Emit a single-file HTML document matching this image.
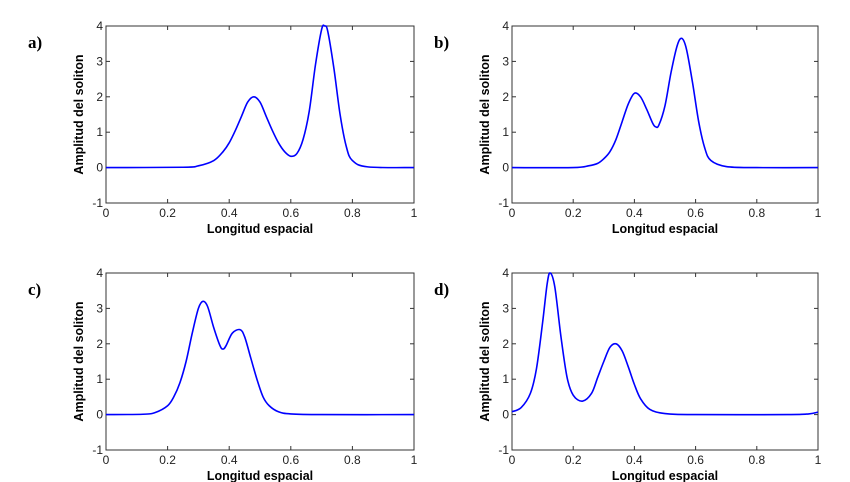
<!DOCTYPE html>
<html><head><meta charset="utf-8"><style>
body{margin:0;background:#fff;}
svg{display:block;font-family:"Liberation Sans",Arial,sans-serif;}
.tick{font-size:12px;fill:#222;}
.lab{font-size:12.5px;font-weight:bold;fill:#000;}
.pl{font-family:"Liberation Serif",serif;font-size:17px;font-weight:bold;}
</style></head><body>
<svg id="fig" width="850" height="482"></svg>
<script>
const xTicks=[0,0.2,0.4,0.6,0.8,1];
const xTickLabels=["0","0.2","0.4","0.6","0.8","1"];
const yTicks=[-1,0,1,2,3,4];
const yTickLabels=["-1","0","1","2","3","4"];
const panelLabels=["a)","b)","c)","d)"];
const aX=[0,0.25,0.3,0.35,0.38,0.4,0.42,0.44,0.46,0.48,0.5,0.52,0.54,0.56,0.58,0.6,0.62,0.64,0.66,0.68,0.7,0.71,0.72,0.74,0.76,0.78,0.8,0.85,1];
const aY=[0,0.01,0.05,0.2,0.45,0.7,1.05,1.45,1.85,2.0,1.85,1.45,1.05,0.7,0.45,0.32,0.4,0.8,1.6,2.9,3.9,4.0,3.85,2.8,1.5,0.6,0.2,0.02,0];
const bX=[0,0.2,0.25,0.28,0.3,0.32,0.34,0.36,0.38,0.4,0.42,0.44,0.46,0.47,0.48,0.5,0.52,0.54,0.555,0.57,0.59,0.61,0.63,0.65,0.7,0.8,1];
const bY=[0,0,0.05,0.12,0.25,0.45,0.8,1.3,1.8,2.1,2.0,1.65,1.25,1.15,1.2,1.75,2.7,3.45,3.65,3.35,2.4,1.3,0.55,0.2,0.03,0,0];
const cX=[0,0.12,0.16,0.2,0.22,0.24,0.26,0.28,0.3,0.315,0.33,0.35,0.37,0.38,0.39,0.41,0.435,0.45,0.47,0.49,0.51,0.53,0.56,0.6,0.7,1];
const cY=[0,0.01,0.06,0.25,0.5,0.9,1.5,2.3,3.0,3.2,3.05,2.45,1.95,1.85,1.95,2.3,2.4,2.2,1.6,1.0,0.5,0.25,0.08,0.02,0,0];
const dX=[0,0.03,0.06,0.08,0.1,0.115,0.125,0.14,0.16,0.18,0.2,0.23,0.26,0.28,0.3,0.32,0.34,0.36,0.38,0.4,0.42,0.45,0.5,0.6,0.9,0.97,1];
const dY=[0.08,0.2,0.6,1.3,2.6,3.7,4.0,3.6,2.2,1.05,0.55,0.38,0.6,1.05,1.5,1.9,2.0,1.8,1.35,0.85,0.45,0.15,0.03,0,0,0.02,0.07];
const seriesX=[aX,bX,cX,dX], seriesY=[aY,bY,cY,dY];
const boxes=[[106,26,414,203],[512,26,818,203],[106,273,414,450],[512,273,818,450]];
const NS="http://www.w3.org/2000/svg";
const svg=document.getElementById('fig');
function mk(t,a,p){const e=document.createElementNS(NS,t);for(const k in a)e.setAttribute(k,a[k]);(p||svg).appendChild(e);return e;}
boxes.forEach((b,i)=>{
  const [L,T,R,B]=b;
  const g=mk('g',{});
  
  
  const sx=v=>L+(R-L)*v, sy=v=>B-(B-T)*(v+1)/5;
  const fr=mk('rect',{x:L,y:T,width:R-L,height:B-T,fill:'none',stroke:'#333','stroke-width':1},g);
  
  
  xTicks.forEach((v,k)=>{
    const x=sx(v);
    mk('line',{x1:x,y1:B,x2:x,y2:B-4,stroke:'#333'},g);
    mk('line',{x1:x,y1:T,x2:x,y2:T+4,stroke:'#333'},g);
    const t=mk('text',{x:x,y:B+14,'text-anchor':'middle',class:'tick'},g);t.textContent=xTickLabels[k];
    
    
  });
  yTicks.forEach((v,k)=>{
    const y=sy(v);
    mk('line',{x1:L,y1:y,x2:L+4,y2:y,stroke:'#333'},g);
    mk('line',{x1:R,y1:y,x2:R-4,y2:y,stroke:'#333'},g);
    const t=mk('text',{x:L-3,y:y+4,'text-anchor':'end',class:'tick'},g);t.textContent=yTickLabels[k];
    
    
  });
  const xl=mk('text',{x:(L+R)/2,y:B+30,'text-anchor':'middle',class:'lab'},g);xl.textContent='Longitud espacial';
  
  
  const yl=mk('text',{x:0,y:0,'text-anchor':'middle',class:'lab',transform:`translate(${L-23},${(T+B)/2}) rotate(-90)`},g);yl.textContent='Amplitud del soliton';
  
  
  const pl=mk('text',{x:L-78,y:T+22,class:'pl'},g);pl.textContent=panelLabels[i];
  
  
  const X=seriesX[i],Y=seriesY[i];
  const P=X.map((x,k)=>[sx(x),sy(Y[k])]);
  let d=`M${P[0][0]},${P[0][1]}`;
  for(let k=0;k<P.length-1;k++){
    const p0=P[Math.max(k-1,0)],p1=P[k],p2=P[k+1],p3=P[Math.min(k+2,P.length-1)];
    const c1=[p1[0]+(p2[0]-p0[0])/6,p1[1]+(p2[1]-p0[1])/6];
    const c2=[p2[0]-(p3[0]-p1[0])/6,p2[1]-(p3[1]-p1[1])/6];
    d+=` C${c1[0]},${c1[1]} ${c2[0]},${c2[1]} ${p2[0]},${p2[1]}`;
  }
  const ln=mk('path',{d:d,fill:'none',stroke:'#0000ff','stroke-width':1.6},g);
  
  
});
</script>
</body></html>
